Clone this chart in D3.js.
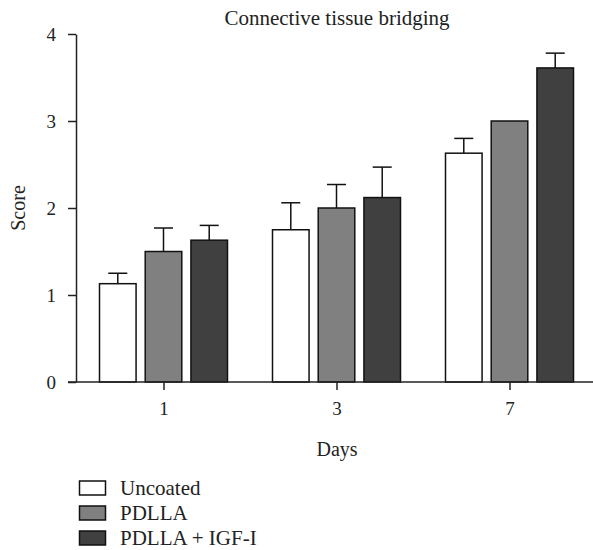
<!DOCTYPE html>
<html>
<head>
<meta charset="utf-8">
<script src="https://cdn.jsdelivr.net/npm/d3@7"></script>
<style>
  body { margin: 0; background: #fff; }
  text { font-family: "Liberation Serif", "DejaVu Serif", serif; fill: #222; }
</style>
</head>
<body>
<svg id="chart" width="593" height="550"></svg>
<script>
// ---- Data ----
const days = ["1", "3", "7"];
const seriesNames = ["Uncoated", "PDLLA", "PDLLA + IGF-I"];
const uncoated = [1.13, 1.75, 2.63];
const uncoatedErr = [0.12, 0.31, 0.17];
const pdlla = [1.50, 2.00, 3.00];
const pdllaErr = [0.27, 0.27, 0];
const igf = [1.63, 2.12, 3.61];
const igfErr = [0.17, 0.35, 0.17];
const yTicks = [0, 1, 2, 3, 4];
const seriesColors = ["#ffffff", "#808080", "#404040"];

const values = [uncoated, pdlla, igf];
const errors = [uncoatedErr, pdllaErr, igfErr];

const svg = d3.select("#chart");

const x0 = d3.scaleBand().domain(days).range([77, 596]).padding(0);
const x1 = d3.scaleBand().domain(seriesNames).range([-64, 64]).paddingInner(0.2).paddingOuter(0);
const y = d3.scaleLinear().domain([0, 4]).range([382, 34]);

const rows = [];
days.forEach((d, i) => {
  seriesNames.forEach((s, j) => {
    rows.push({ day: d, series: s, v: values[j][i], e: errors[j][i], color: seriesColors[j] });
  });
});

// Error bars
const eb = svg.append("g").attr("stroke", "#111").attr("stroke-width", 1.5).attr("fill", "none");
rows.filter(r => r.e > 0).forEach(r => {
  const cx = x0(r.day) + x0.bandwidth() / 2 + x1(r.series) + x1.bandwidth() / 2;
  eb.append("line").attr("x1", cx).attr("x2", cx).attr("y1", y(r.v)).attr("y2", y(r.v + r.e));
  eb.append("line").attr("x1", cx - 9.5).attr("x2", cx + 9.5).attr("y1", y(r.v + r.e)).attr("y2", y(r.v + r.e));
});

// Bars
svg.append("g").selectAll("rect").data(rows).join("rect")
  .attr("x", r => x0(r.day) + x0.bandwidth() / 2 + x1(r.series))
  .attr("width", x1.bandwidth())
  .attr("y", r => y(r.v))
  .attr("height", r => y(0) - y(r.v))
  .attr("fill", r => r.color)
  .attr("stroke", "#111")
  .attr("stroke-width", 1.5);

// Y axis
const yAxis = svg.append("g").attr("transform", "translate(76,0)")
  .call(d3.axisLeft(y).tickValues(yTicks).tickFormat(d3.format("d")).tickSize(8).tickPadding(12).tickSizeOuter(0));
yAxis.select(".domain").attr("stroke", "#222").attr("stroke-width", 1.5);
yAxis.selectAll(".tick line").attr("stroke", "#222").attr("stroke-width", 1.5);
yAxis.selectAll(".tick text").style("font-family", "Liberation Serif, serif").style("font-size", "19px").attr("fill", "#222");

// X axis
const xAxisG = svg.append("g").attr("transform", "translate(0,382)");
xAxisG.append("line").attr("x1", 68).attr("x2", 593).attr("y1", 0).attr("y2", 0)
  .attr("stroke", "#222").attr("stroke-width", 1.5);
const xPos = d3.scalePoint().domain(days).range([77 + x0.bandwidth() / 2, 596 - x0.bandwidth() / 2]);
const xAxis = xAxisG.append("g")
  .call(d3.axisBottom(xPos).tickSize(8).tickPadding(12).tickSizeOuter(0));
xAxis.select(".domain").remove();
xAxis.selectAll(".tick line").attr("stroke", "#222").attr("stroke-width", 1.5);
xAxis.selectAll(".tick text").style("font-family", "Liberation Serif, serif").style("font-size", "19px").attr("fill", "#222");

// Title
svg.append("text").attr("x", 337).attr("y", 25).attr("text-anchor", "middle")
  .style("font-size", "21px").text("Connective tissue bridging");

// Axis labels
svg.append("text").attr("x", 337).attr("y", 456).attr("text-anchor", "middle")
  .style("font-size", "20px").text("Days");
svg.append("text").attr("transform", "translate(25,208) rotate(-90)").attr("text-anchor", "middle")
  .style("font-size", "20px").text("Score");

// Legend
const legend = svg.append("g");
seriesNames.forEach((s, j) => {
  const gy = 481 + j * 25;
  legend.append("rect").attr("x", 79.5).attr("y", gy).attr("width", 26).attr("height", 14)
    .attr("fill", seriesColors[j]).attr("stroke", "#111").attr("stroke-width", 1.5);
  legend.append("text").attr("x", 120).attr("y", gy + 14).style("font-size", "21px").text(s);
});
</script>
</body>
</html>
